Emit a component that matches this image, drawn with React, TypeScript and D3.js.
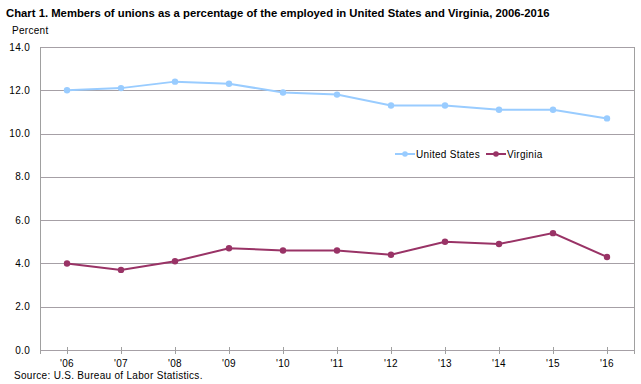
import {useEffect, useRef} from "react";
import * as d3 from "d3";

const years = ["'06", "'07", "'08", "'09", "'10", "'11", "'12", "'13", "'14", "'15", "'16"];
const unitedStates = [12.0, 12.1, 12.4, 12.3, 11.9, 11.8, 11.3, 11.3, 11.1, 11.1, 10.7];
const virginia = [4.0, 3.7, 4.1, 4.7, 4.6, 4.6, 4.4, 5.0, 4.9, 5.4, 4.3];
const yTicks = [0, 2, 4, 6, 8, 10, 12, 14];

const series = [
  {name: "United States", values: unitedStates, color: "#99ccff"},
  {name: "Virginia", values: virginia, color: "#993366"}
];

const W = 641;
const H = 384;
const margin = {top: 47, right: 7, bottom: 34, left: 40};
const font = "'Liberation Sans', Arial, sans-serif";
const ls = 0.3;

const App = () => {
  const ref = useRef<SVGSVGElement>(null);

  useEffect(() => {
    const svg = d3.select(ref.current);
    svg.selectAll("*").remove();

    const x = d3.scaleBand().domain(years).range([margin.left, W - margin.right]);
    const y = d3.scaleLinear().domain([0, 14]).range([H - margin.bottom, margin.top]);
    const cx = (i: number) => (x(years[i]) ?? 0) + x.bandwidth() / 2;

    // title
    svg.append("text")
      .attr("x", 6).attr("y", 17)
      .attr("font-family", font).attr("font-size", 11.3).attr("font-weight", "bold")
      .text("Chart 1. Members of unions as a percentage of the employed in United States and Virginia, 2006-2016");

    svg.append("text")
      .attr("x", 12).attr("y", 34)
      .attr("font-family", font).attr("font-size", 10).attr("letter-spacing", ls)
      .text("Percent");

    // gridlines
    svg.append("g").selectAll("line")
      .data(yTicks)
      .join("line")
      .attr("x1", margin.left).attr("x2", W - margin.right)
      .attr("y1", d => Math.round(y(d)) + 0.5).attr("y2", d => Math.round(y(d)) + 0.5)
      .attr("stroke", "#a6a0a6").attr("stroke-width", 1);

    // left & right border
    [margin.left, W - margin.right].forEach(px => {
      svg.append("line")
        .attr("x1", px + 0.5).attr("x2", px + 0.5)
        .attr("y1", y(14)).attr("y2", y(0) + 4)
        .attr("stroke", "#a0a0a0");
    });

    // y labels
    svg.append("g").selectAll("text")
      .data(yTicks)
      .join("text")
      .attr("x", 30).attr("y", d => y(d) + 3.5)
      .attr("text-anchor", "end")
      .attr("font-family", font).attr("font-size", 10).attr("letter-spacing", ls)
      .text(d => d.toFixed(1));

    // x ticks and labels
    const xg = svg.append("g");
    years.forEach((yr, i) => {
      xg.append("line")
        .attr("x1", Math.round(cx(i)) + 0.5).attr("x2", Math.round(cx(i)) + 0.5)
        .attr("y1", y(0) - 3).attr("y2", y(0) + 4)
        .attr("stroke", "#a0a0a0");
      xg.append("text")
        .attr("x", cx(i)).attr("y", y(0) + 17)
        .attr("text-anchor", "middle")
        .attr("font-family", font).attr("font-size", 10).attr("letter-spacing", ls)
        .text(yr);
    });

    // lines
    const line = d3.line<number>()
      .x((_, i) => cx(i))
      .y(d => y(d));

    series.forEach(s => {
      svg.append("path")
        .datum(s.values)
        .attr("fill", "none")
        .attr("stroke", s.color)
        .attr("stroke-width", 2)
        .attr("d", line);
      svg.append("g").selectAll("circle")
        .data(s.values)
        .join("circle")
        .attr("cx", (_, i) => cx(i))
        .attr("cy", d => y(d))
        .attr("r", 3.2)
        .attr("fill", s.color);
    });

    // legend
    const legendX = [395, 486];
    series.forEach((s, i) => {
      const g = svg.append("g").attr("transform", `translate(${legendX[i]},154)`);
      g.append("line").attr("x1", 0).attr("x2", 20).attr("y1", 0).attr("y2", 0)
        .attr("stroke", s.color).attr("stroke-width", 2);
      g.append("circle").attr("cx", 10).attr("cy", 0).attr("r", 2.8).attr("fill", s.color);
      g.append("text").attr("x", 21).attr("y", 3.5)
        .attr("font-family", font).attr("font-size", 10).attr("letter-spacing", ls)
        .text(s.name);
    });

    // source
    svg.append("text")
      .attr("x", 14).attr("y", 379)
      .attr("font-family", font).attr("font-size", 10).attr("letter-spacing", ls)
      .text("Source: U.S. Bureau of Labor Statistics.");
  }, []);

  return (
    <svg ref={ref} width={W} height={H}
      style={{position: "absolute", left: 0, top: 0, background: "#fff"}} />
  );
};

export default App;
